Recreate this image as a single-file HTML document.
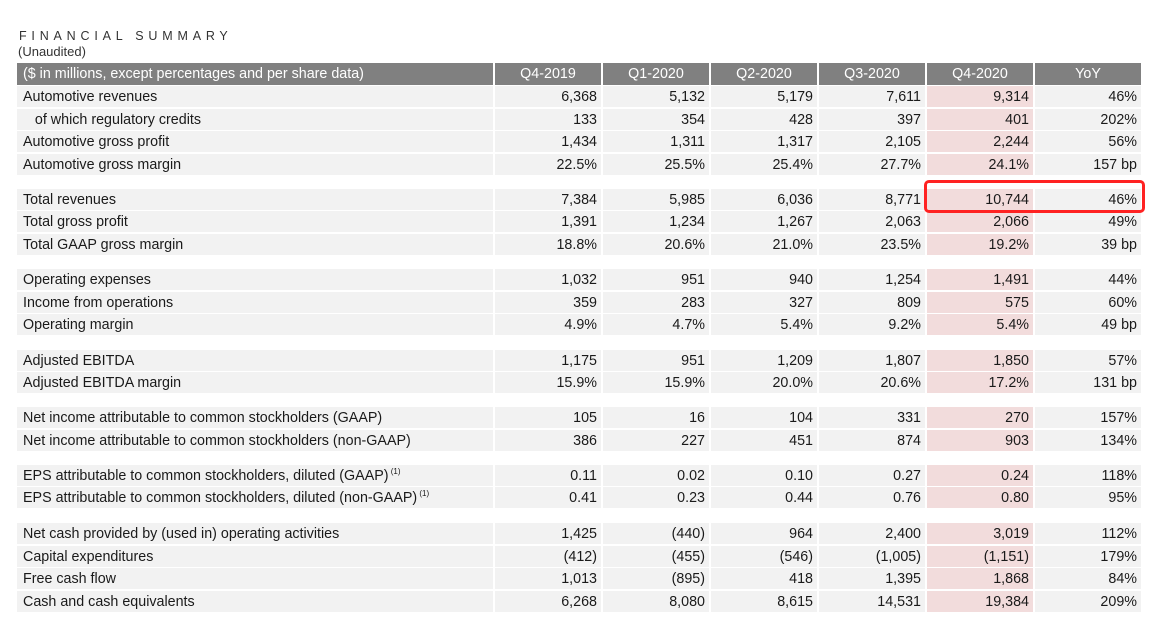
<!DOCTYPE html>
<html><head><meta charset="utf-8"><style>
body{margin:0;width:1159px;height:635px;background:#fff;position:relative;overflow:hidden;font-family:"Liberation Sans",sans-serif;color:#1a1a1a}
.t{position:absolute;left:19px;top:29px;font-size:12.5px;letter-spacing:4.8px;color:#333}
.u{position:absolute;left:18px;top:44px;font-size:13px;color:#333}
.r{position:absolute;left:17px;height:21px;display:flex;font-size:14.3px;line-height:22px}
.r span{display:block;background:#f2f2f2;width:106px;margin-left:2px;text-align:right;padding-right:4px;box-sizing:border-box;white-space:nowrap;height:21px;overflow:visible}
.r span:first-child{width:476px;margin-left:0;text-align:left;padding-left:6px}
.r span:nth-child(6){background:#f2dcdc}
.h span{background:#808080!important;color:#fff;text-align:center!important;padding-right:0!important;height:22px}
.h span:first-child{text-align:left!important}
.h{height:22px;line-height:22px}
sup{font-size:8px;line-height:0;vertical-align:6px}
.box{position:absolute;left:924px;top:180px;width:215px;height:27px;border:3px solid #f22;border-radius:5px}
</style></head><body>
<div class="t">FINANCIAL SUMMARY</div>
<div class="u">(Unaudited)</div>
<div class="r h" style="top:63px"><span>($ in millions, except percentages and per share data)</span><span>Q4-2019</span><span>Q1-2020</span><span>Q2-2020</span><span>Q3-2020</span><span>Q4-2020</span><span>YoY</span></div>
<div class="r" style="top:86px"><span>Automotive revenues</span><span>6,368</span><span>5,132</span><span>5,179</span><span>7,611</span><span>9,314</span><span>46%</span></div>
<div class="r" style="top:108.5px"><span>&nbsp;&nbsp;&nbsp;of which regulatory credits</span><span>133</span><span>354</span><span>428</span><span>397</span><span>401</span><span>202%</span></div>
<div class="r" style="top:131px"><span>Automotive gross profit</span><span>1,434</span><span>1,311</span><span>1,317</span><span>2,105</span><span>2,244</span><span>56%</span></div>
<div class="r" style="top:153.5px"><span>Automotive gross margin</span><span>22.5%</span><span>25.5%</span><span>25.4%</span><span>27.7%</span><span>24.1%</span><span>157 bp</span></div>
<div class="r" style="top:188.5px"><span>Total revenues</span><span>7,384</span><span>5,985</span><span>6,036</span><span>8,771</span><span>10,744</span><span>46%</span></div>
<div class="r" style="top:211px"><span>Total gross profit</span><span>1,391</span><span>1,234</span><span>1,267</span><span>2,063</span><span>2,066</span><span>49%</span></div>
<div class="r" style="top:233.5px"><span>Total GAAP gross margin</span><span>18.8%</span><span>20.6%</span><span>21.0%</span><span>23.5%</span><span>19.2%</span><span>39 bp</span></div>
<div class="r" style="top:269px"><span>Operating expenses</span><span>1,032</span><span>951</span><span>940</span><span>1,254</span><span>1,491</span><span>44%</span></div>
<div class="r" style="top:291.5px"><span>Income from operations</span><span>359</span><span>283</span><span>327</span><span>809</span><span>575</span><span>60%</span></div>
<div class="r" style="top:314px"><span>Operating margin</span><span>4.9%</span><span>4.7%</span><span>5.4%</span><span>9.2%</span><span>5.4%</span><span>49 bp</span></div>
<div class="r" style="top:349.5px"><span>Adjusted EBITDA</span><span>1,175</span><span>951</span><span>1,209</span><span>1,807</span><span>1,850</span><span>57%</span></div>
<div class="r" style="top:372px"><span>Adjusted EBITDA margin</span><span>15.9%</span><span>15.9%</span><span>20.0%</span><span>20.6%</span><span>17.2%</span><span>131 bp</span></div>
<div class="r" style="top:407px"><span>Net income attributable to common stockholders (GAAP)</span><span>105</span><span>16</span><span>104</span><span>331</span><span>270</span><span>157%</span></div>
<div class="r" style="top:429.5px"><span>Net income attributable to common stockholders (non-GAAP)</span><span>386</span><span>227</span><span>451</span><span>874</span><span>903</span><span>134%</span></div>
<div class="r" style="top:464.5px"><span>EPS attributable to common stockholders, diluted (GAAP)<sup> (1)</sup></span><span>0.11</span><span>0.02</span><span>0.10</span><span>0.27</span><span>0.24</span><span>118%</span></div>
<div class="r" style="top:487px"><span>EPS attributable to common stockholders, diluted (non-GAAP)<sup> (1)</sup></span><span>0.41</span><span>0.23</span><span>0.44</span><span>0.76</span><span>0.80</span><span>95%</span></div>
<div class="r" style="top:523px"><span>Net cash provided by (used in) operating activities</span><span>1,425</span><span>(440)</span><span>964</span><span>2,400</span><span>3,019</span><span>112%</span></div>
<div class="r" style="top:545.5px"><span>Capital expenditures</span><span>(412)</span><span>(455)</span><span>(546)</span><span>(1,005)</span><span>(1,151)</span><span>179%</span></div>
<div class="r" style="top:568px"><span>Free cash flow</span><span>1,013</span><span>(895)</span><span>418</span><span>1,395</span><span>1,868</span><span>84%</span></div>
<div class="r" style="top:590.5px"><span>Cash and cash equivalents</span><span>6,268</span><span>8,080</span><span>8,615</span><span>14,531</span><span>19,384</span><span>209%</span></div>
<div class="box"></div>
</body></html>
